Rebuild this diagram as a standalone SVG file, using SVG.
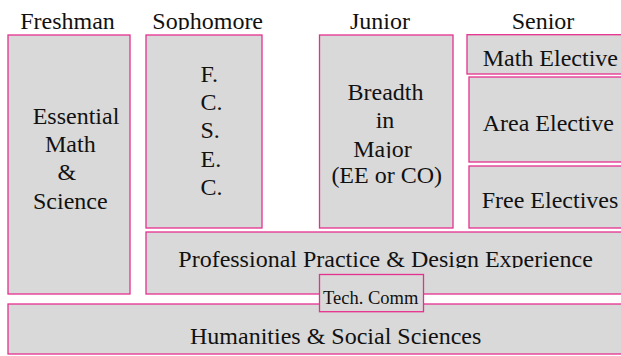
<svg xmlns="http://www.w3.org/2000/svg" width="621" height="356" viewBox="0 0 621 356">
<style>
.box{fill:#d9d9d9;stroke:#e5318e;stroke-width:1.3}
text{font-family:"Liberation Serif","Times New Roman",serif;font-size:24px;fill:#111}
.sm{font-size:18.5px}
.c{text-anchor:middle}
</style>
<defs>
<clipPath id="clipHead"><rect x="0" y="0" width="621" height="30"/></clipPath>
<clipPath id="clipPro"><rect x="146" y="232" width="475" height="36"/></clipPath>
<clipPath id="clipMajor"><rect x="320" y="130" width="133" height="28"/></clipPath>
<clipPath id="clipTech"><rect x="319" y="274" width="105" height="31"/></clipPath>
</defs>
<rect width="621" height="356" fill="#ffffff"/>
<g id="headings" clip-path="url(#clipHead)">
<text x="67.5" y="28.7" class="c">Freshman</text>
<text x="207.7" y="28.7" class="c">Sophomore</text>
<text x="380" y="28.7" class="c">Junior</text>
<text x="543" y="28.7" class="c">Senior</text>
</g>
<g id="freshman">
<rect class="box" x="8" y="35" width="122" height="259"/>
<text x="32.7" y="123.5">Essential</text>
<text x="45" y="151.7">Math</text>
<text x="57.5" y="180">&amp;</text>
<text x="33" y="208.5">Science</text>
</g>
<g id="sophomore">
<rect class="box" x="146" y="35" width="116" height="193"/>
<text x="200.5" y="81.7">F.</text>
<text x="200.5" y="110">C.</text>
<text x="200.5" y="138.3">S.</text>
<text x="200.5" y="166.7">E.</text>
<text x="200.5" y="195">C.</text>
</g>
<g id="junior">
<rect class="box" x="319.5" y="35" width="133.5" height="193"/>
<text x="385.5" y="100" class="c">Breadth</text>
<text x="385" y="128.3" class="c">in</text>
<text x="382.5" y="156.7" class="c" clip-path="url(#clipMajor)">Major</text>
<text x="386.7" y="183" class="c">(EE or CO)</text>
</g>
<g id="math-elective">
<rect class="box" x="467" y="34.7" width="160" height="39.3"/>
<text x="482.7" y="65.7">Math Elective</text>
</g>
<g id="area-elective">
<rect class="box" x="469" y="77" width="160" height="85"/>
<text x="482.7" y="130.5">Area Elective</text>
</g>
<g id="free-electives">
<rect class="box" x="469" y="166" width="160" height="62"/>
<text x="481.7" y="208.3">Free Electives</text>
</g>
<g id="professional-practice">
<rect class="box" x="146" y="232" width="480" height="62"/>
<text x="178.3" y="266.7" clip-path="url(#clipPro)">Professional Practice &amp; Design Experience</text>
</g>
<g id="humanities">
<rect class="box" x="8" y="304" width="620" height="50"/>
<text x="190" y="344.3">Humanities &amp; Social Sciences</text>
</g>
<g id="tech-comm">
<rect class="box" x="319.5" y="274.5" width="104" height="37.2"/>
<text x="323" y="304.3" class="sm" clip-path="url(#clipTech)">Tech. Comm</text>
</g>
<g id="connectors"/>
</svg>
